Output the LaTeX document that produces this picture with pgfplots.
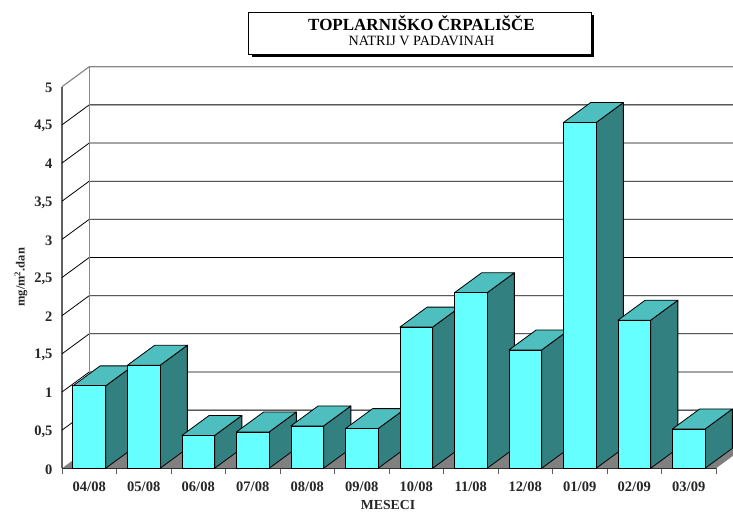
\documentclass[border=0pt]{standalone}
\usepackage{fontspec}
\setmainfont{Liberation Serif}
\usepackage{pgfplots}
\pgfplotsset{compat=1.18}
\definecolor{barfront}{RGB}{102,255,255}
\definecolor{bartop}{RGB}{78,190,190}
\definecolor{barside}{RGB}{51,128,128}
\definecolor{floorgray}{RGB}{128,128,128}
\definecolor{wallgray}{RGB}{136,136,136}
\definecolor{axisgray}{RGB}{96,96,96}
\newcommand\threedbar[2]{%
  \pgfmathsetmacro\xl{#1+0.2}\pgfmathsetmacro\xr{#1+0.8}%
  \pgfmathsetmacro\xlb{#1+0.7}\pgfmathsetmacro\xrb{#1+1.3}%
  \pgfmathsetmacro\vb{#2+0.262}%
  \addplot[draw=black,line width=0.8pt,line join=round,fill=barside] coordinates {(\xr,0)(\xr,#2)(\xrb,\vb)(\xrb,0.262)} --cycle;
  \addplot[draw=black,line width=0.8pt,line join=round,fill=bartop] coordinates {(\xl,#2)(\xr,#2)(\xrb,\vb)(\xlb,\vb)} --cycle;
  \addplot[draw=black,line width=0.8pt,line join=round,fill=barfront] coordinates {(\xl,0)(\xr,0)(\xr,#2)(\xl,#2)} --cycle;
}
\newcommand\gridlevel[1]{%
  \pgfmathsetmacro\vb{#1+0.262}%
  \addplot[black,line width=0.8pt] coordinates {(0,#1)(0.5,\vb)(12.5,\vb)};
}
\begin{document}
\begin{tikzpicture}[x=1pt,y=1pt]
\path[use as bounding box,clip] (-62,-42.7) rectangle (671,468.3);
\begin{axis}[
  scale only axis,width=654pt,height=381.6pt,
  xmin=0,xmax=12,ymin=0,ymax=5,clip=false,
  axis x line*=bottom,axis y line*=left,
  x axis line style={-,black,line width=0.8pt},
  y axis line style={-,axisgray,line width=1.6pt},
  xtick={0.5,1.5,...,11.5},
  xticklabels={04/08,05/08,06/08,07/08,08/08,09/08,10/08,11/08,12/08,01/09,02/09,03/09},
  minor xtick={0,1,...,12},
  ytick={0,0.5,...,5},
  yticklabels={0,{0,5},1,{1,5},2,{2,5},3,{3,5},4,{4,5},5},
  major tick length=0pt,
  minor tick length=6pt,
  y tick style={black,line width=0.8pt},
  every y tick/.style={black,line width=0.8pt},
  every minor x tick/.style={axisgray,line width=0.8pt},
  tick align=outside,
  tick label style={font=\bfseries\fontsize{14.5}{14.5}\selectfont,text=black!85},
  x tick label style={yshift=-10pt},
  y tick label style={xshift=-6pt,yshift=-1.2pt},
]
% floor and walls
\addplot[draw=none,fill=floorgray] coordinates {(0,0)(12,0)(12.5,0.262)(0.5,0.262)} --cycle;
\gridlevel{0.5}\gridlevel{1}\gridlevel{1.5}\gridlevel{2}\gridlevel{2.5}
\gridlevel{3}\gridlevel{3.5}\gridlevel{4}\gridlevel{4.5}
\addplot[wallgray,line width=1.2pt] coordinates {(0,5)(0.5,5.262)(12.5,5.262)};
\addplot[wallgray,line width=1.2pt] coordinates {(0.5,0.262)(0.5,5.262)};
% bars
\threedbar{0}{1.08}
\threedbar{1}{1.35}
\threedbar{2}{0.43}
\threedbar{3}{0.476}
\threedbar{4}{0.555}
\threedbar{5}{0.52}
\threedbar{6}{1.85}
\threedbar{7}{2.30}
\threedbar{8}{1.55}
\threedbar{9}{4.53}
\threedbar{10}{1.94}
\threedbar{11}{0.515}
\end{axis}
% title box (pixel X,Y -> X-62, 468.3-Y)
\fill[black] (190,411.3) rectangle (532,453);
\draw[black,line width=0.8pt,fill=white] (186,413.8) rectangle (529.5,456.3);
\node[font=\bfseries\fontsize{17}{17}\selectfont,text=black] at (359.5,444.8) {TOPLARNIŠKO ČRPALIŠČE};
\node[font=\fontsize{14.2}{14.2}\selectfont,text=black] at (359.5,427.3) {NATRIJ V PADAVINAH};
\node[font=\bfseries\fontsize{13.8}{13.8}\selectfont,text=black!85] at (326,-36.5) {MESECI};
\node[font=\bfseries\fontsize{12.5}{12.5}\selectfont,text=black!85,rotate=90] at (-41,191) {mg/m\textsuperscript{2}.dan};
\end{tikzpicture}
\end{document}
